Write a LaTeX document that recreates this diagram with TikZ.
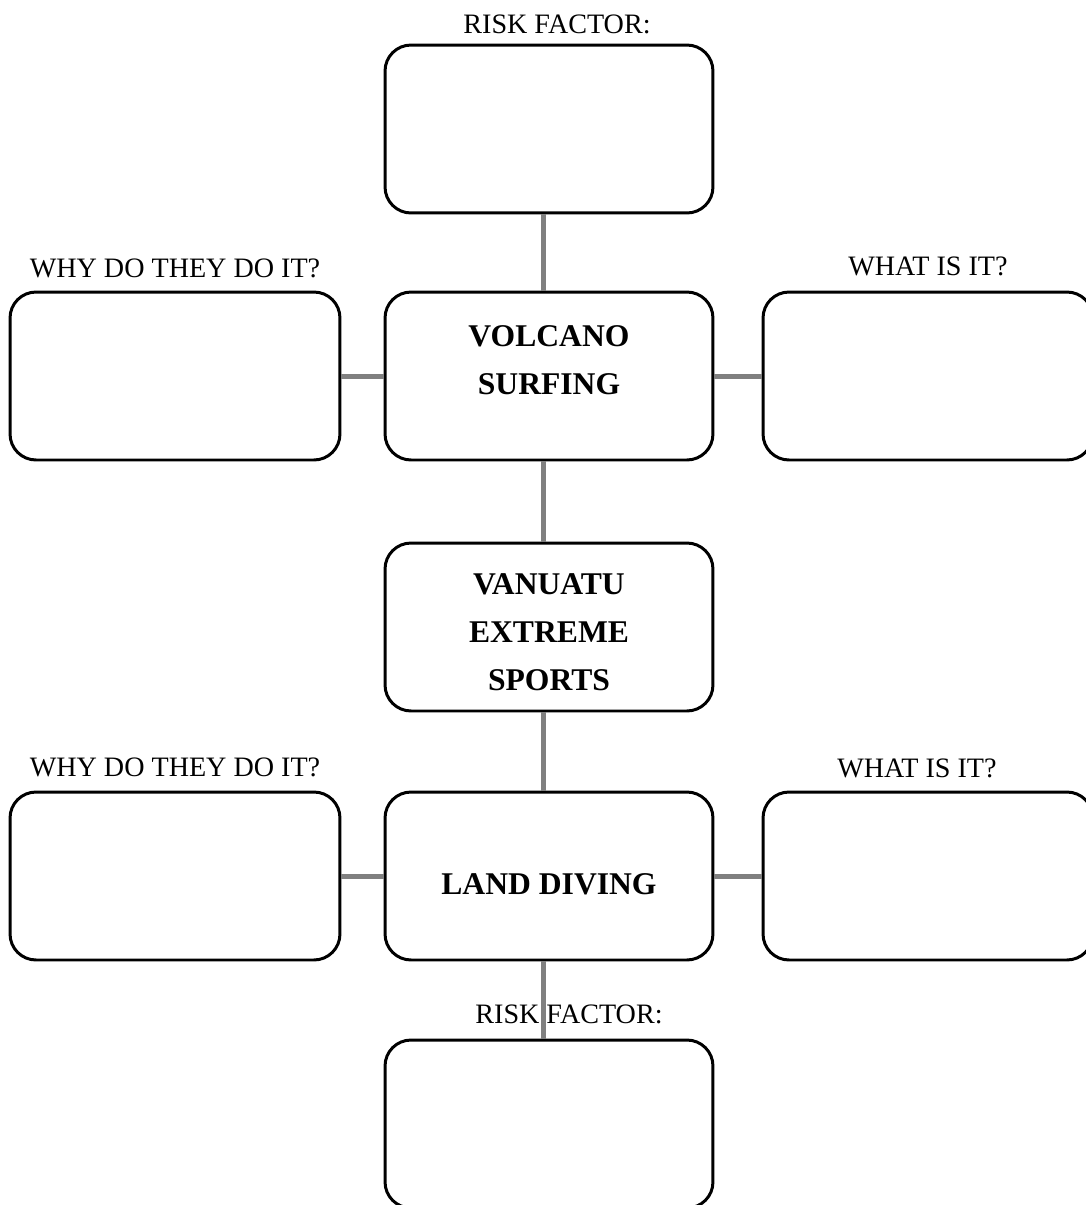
\documentclass[tikz,border=0pt]{standalone}
\usepackage{fontspec}
\setmainfont{Liberation Serif}
\usetikzlibrary{positioning}
\definecolor{Link}{HTML}{808080}

\begin{document}
\begin{tikzpicture}[x=0.02cm,y=-0.02cm,
    box/.style={draw,line width=1.7pt,rounded corners=0.52cm,minimum width=6.56cm,minimum height=3.36cm,inner sep=0pt},
    side/.style={box,minimum width=6.6cm},
    hub/.style={box,align=center,font=\fontsize{18pt}{27.3pt}\selectfont\bfseries},
    tag/.style={anchor=base,inner sep=0pt,font=\fontsize{16pt}{19pt}\selectfont},
    link/.style={Link,line width=2.85pt}]
    \useasboundingbox (0,0) rectangle (1086,1205);
    \clip (0,0) rectangle (1086,1205);
    % boxes down the middle
    \node[box] (risktop) at (549,129) {};
    \node[hub,text depth=0.64cm] (volcano) at (549,376) {VOLCANO\\SURFING};
    \node[hub,text height=2.55cm,text depth=0pt] (vanuatu) at (549,627) {VANUATU\\EXTREME\\SPORTS};
    \node[hub,text height=0.74cm,text depth=0pt] (landdive) at (549,876) {LAND DIVING};
    \node[box] (riskbot) at (549,1124) {};
    % boxes on the sides
    \node[side] (whyup) at (175,376) {};
    \node[side] (whatup) at (928,376) {};
    \node[side] (whydown) at (175,876) {};
    \node[side] (whatdown) at (928,876) {};
    % headings
    \node[tag] (riskuptag) at (557,33) {RISK FACTOR:};
    \node[tag] (whyuptag) at (175,277) {WHY DO THEY DO IT?};
    \node[tag] (whatuptag) at (928,275) {WHAT IS IT?};
    \node[tag] (whydowntag) at (175,776) {WHY DO THEY DO IT?};
    \node[tag] (whatdowntag) at (917,777) {WHAT IS IT?};
    \node[tag] (riskdowntag) at (569,1023) {RISK FACTOR:};
    % connectors
    \draw[link] ([xshift=-0.12cm]risktop.south) -- ([xshift=-0.12cm]volcano.north);
    \draw[link] ([xshift=-0.12cm]volcano.south) -- ([xshift=-0.12cm]vanuatu.north);
    \draw[link] ([xshift=-0.12cm]vanuatu.south) -- ([xshift=-0.12cm]landdive.north);
    \draw[link] ([xshift=-0.12cm]landdive.south) -- ([xshift=-0.12cm]riskbot.north);
    \draw[link] (whyup) -- (volcano);
    \draw[link] (volcano) -- (whatup);
    \draw[link] (whydown) -- (landdive);
    \draw[link] (landdive) -- (whatdown);
  \end{tikzpicture}
\end{document}
